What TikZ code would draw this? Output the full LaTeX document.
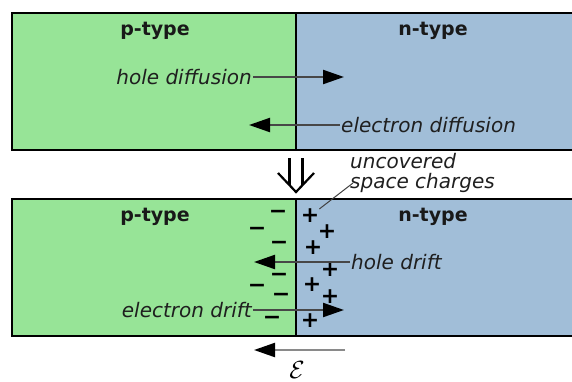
\documentclass[tikz,border=0pt]{standalone}
\usepackage{fontspec}
\setmainfont{DejaVu Sans}
\usetikzlibrary{arrows.meta}
\definecolor{pgreen}{HTML}{97E497}
\definecolor{nblue}{HTML}{A1BED8}
\definecolor{shaft}{HTML}{474747}
\definecolor{fieldgray}{HTML}{8A8A8A}
\tikzset{
  pside/.style={rectangle, draw=black, fill=pgreen, line width=2.8pt,
                minimum width=284pt, minimum height=137pt, inner sep=0pt},
  nside/.style={rectangle, draw=black, fill=nblue, line width=2.8pt,
                minimum width=284pt, minimum height=137pt, inner sep=0pt},
  typelbl/.style={font=\fontsize{19}{21}\selectfont\bfseries, text=black!90, inner sep=0pt},
  lbl/.style={font=\fontsize{20}{20}\selectfont\itshape, text=black!88, inner sep=1pt},
  chg/.style={font=\fontsize{22}{22}\selectfont\bfseries, inner sep=0pt},
  fl/.style={-{Triangle[length=21pt, width=14pt, color=black]}, draw=shaft, line width=2.2pt},
  ff/.style={-{Triangle[length=21pt, width=14pt, color=black]}, draw=fieldgray, line width=2.2pt},
}

\begin{document}
\begin{tikzpicture}[x=1pt, y=-1pt]
\useasboundingbox (0,0) rectangle (572,381);

% before contact
\node[nside] (ntop) at (438,81.5) {};
\node[pside] (ptop) at (154,81.5) {};
\node[typelbl] (plbltop) at (155,31) {p-type};
\node[typelbl] (nlbltop) at (433,31) {n-type};
\node[lbl, anchor=east] (holediff) at (253,77) {hole diffusion};
\coordinate (holediffend) at (344,77);
\node[lbl, anchor=west] (elecdiff) at (340,125) {electron diffusion};
\coordinate (elecdiffend) at (249,125);
\draw[fl] (holediff.east) -- (holediffend);
\draw[fl] (elecdiff.west) -- (elecdiffend);

% hollow down arrow
\draw[line width=2.2pt, line join=miter] (289.5,158) -- (289.5,185);
\draw[line width=2.2pt, line join=miter] (302.5,158) -- (302.5,185);
\draw[line width=2.2pt, line join=miter] (278,173) -- (296,192) -- (314,173);

\node[lbl, anchor=west, align=left] (spacelbl) at (349,173) {uncovered\\space charges};

% after contact
\node[nside] (nbot) at (438,267.5) {};
\node[pside] (pbot) at (154,267.5) {};
\node[typelbl] (plblbot) at (155,217) {p-type};
\node[typelbl] (nlblbot) at (433,217) {n-type};

\node[chg] (m1) at (278,214) {−};
\node[chg] (m2) at (257,231) {−};
\node[chg] (m3) at (279,245) {−};
\node[chg] (m4) at (279,277) {−};
\node[chg] (m5) at (257,288) {−};
\node[chg] (m6) at (281,297) {−};
\node[chg] (m7) at (272,320) {−};

\node[chg] (q1) at (310,216) {+};
\node[chg] (q2) at (327,232) {+};
\node[chg] (q3) at (313,248) {+};
\node[chg] (q4) at (330,270) {+};
\node[chg] (q5) at (312,285) {+};
\node[chg] (q6) at (330,297) {+};
\node[chg] (q7) at (310,321) {+};

\coordinate (spaceptr) at (353,183);
\draw[black!75, line width=1pt] (q1.north east) -- (spaceptr);

\node[lbl, anchor=west] (holedrift) at (350,262) {hole drift};
\coordinate (holedriftend) at (254,262);
\node[lbl, anchor=east] (elecdrift) at (253,310) {electron drift};
\coordinate (elecdriftend) at (344,310);
\draw[fl] (holedrift.west) -- (holedriftend);
\draw[fl] (elecdrift.east) -- (elecdriftend);

% field
\coordinate (fieldstart) at (345,350);
\coordinate (fieldend) at (254,350);
\draw[ff] (fieldstart) -- (fieldend);
\node[font=\fontsize{24}{26}\selectfont, inner sep=0pt] (fieldlbl) at (297,370) {$\mathcal{E}$};
\end{tikzpicture}
\end{document}
